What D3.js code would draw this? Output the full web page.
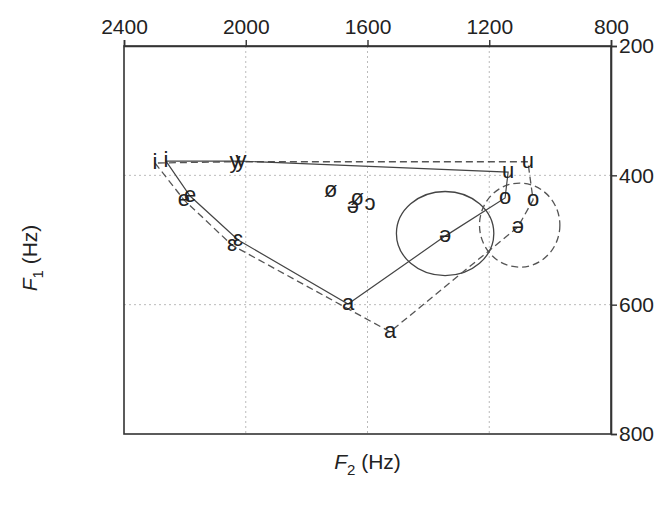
<!DOCTYPE html>
<html>
<head>
<meta charset="utf-8">
<script src="https://cdn.jsdelivr.net/npm/d3@7"></script>
<style>
  html, body { margin: 0; padding: 0; background: #fff; }
  svg { display: block; font-family: "Liberation Sans", Arial, Helvetica, sans-serif; }
</style>
</head>
<body>
<svg id="chart" width="667" height="508"></svg>
<script>
// ---- data ----
const vowels = ["i", "e", "ɛ", "a", "ə", "o", "u", "y"];
// series A (solid)
const solidF2 = [2262, 2183, 2025, 1664, 1345, 1148, 1138, 2016];
const solidF1 = [378, 432, 500, 599, 494, 435, 395, 378];
// series B (dashed)
const dashedF2 = [2298, 2203, 2045, 1526, 1106, 1056, 1073, 2035];
const dashedF1 = [381, 438, 508, 642, 480, 438, 379, 379];
// unconnected vowels
const extraLabels = ["ø", "ø", "ə", "ɔ"];
const extraF2 = [1721, 1634, 1648, 1592];
const extraF1 = [424, 437, 449, 444];
// dispersion ellipses for ə (centre F2, centre F1, radius F2, radius F1)
const ellipseNames = ["solid", "dashed"];
const ellipseF2 = [1345, 1100];
const ellipseF1 = [490, 477];
const ellipseRF2 = [160, 132];
const ellipseRF1 = [65, 65];
// ticks
const f2Ticks = [2400, 2000, 1600, 1200, 800];
const f1Ticks = [200, 400, 600, 800];

// ---- layout ----
const svg = d3.select("#chart");
const L = 124, R = 611, T = 46, B = 434;
const x = d3.scaleLinear().domain([2400, 800]).range([L, R]);
const y = d3.scaleLinear().domain([200, 800]).range([T, B]);

// grid
const grid = svg.append("g").attr("stroke", "#bbb").attr("stroke-width", 1).attr("stroke-dasharray", "2,3");
grid.selectAll("line.gx").data(f2Ticks.slice(1, -1)).join("line")
  .attr("x1", d => x(d)).attr("x2", d => x(d)).attr("y1", T).attr("y2", B);
grid.selectAll("line.gy").data(f1Ticks.slice(1, -1)).join("line")
  .attr("y1", d => y(d)).attr("y2", d => y(d)).attr("x1", L).attr("x2", R);

// frame
svg.append("rect").attr("x", L).attr("y", T).attr("width", R - L).attr("height", B - T)
  .attr("fill", "none").attr("stroke", "#333").attr("stroke-width", 1.6);

// axes
const topAxis = d3.axisTop(x).tickValues(f2Ticks).tickSize(6).tickPadding(6).tickFormat(d3.format("d"));
const gTop = svg.append("g").attr("transform", `translate(0,${T})`).call(topAxis);
const rightAxis = d3.axisRight(y).tickValues(f1Ticks).tickSize(6).tickPadding(2).tickFormat(d3.format("d"));
const gRight = svg.append("g").attr("transform", `translate(${R},0)`).call(rightAxis);
[gTop, gRight].forEach(g => {
  g.select(".domain").attr("stroke", "#333").attr("stroke-width", 1.6);
  g.selectAll(".tick line").attr("stroke", "#333").attr("stroke-width", 1.4);
  g.selectAll(".tick text").attr("fill", "#222").style("font-size", "21px")
    .style("font-family", "'Liberation Sans', Arial, sans-serif");
});

// ellipses
svg.selectAll("ellipse.sd").data(ellipseNames).join("ellipse")
  .attr("cx", (d, i) => x(ellipseF2[i]))
  .attr("cy", (d, i) => y(ellipseF1[i]))
  .attr("rx", (d, i) => Math.abs(x(ellipseF2[i] + ellipseRF2[i]) - x(ellipseF2[i])))
  .attr("ry", (d, i) => Math.abs(y(ellipseF1[i] + ellipseRF1[i]) - y(ellipseF1[i])))
  .attr("fill", "none")
  .attr("stroke", (d, i) => i === 0 ? "#444" : "#555")
  .attr("stroke-width", 1.3)
  .attr("stroke-dasharray", (d, i) => i === 0 ? null : "7,4");

// polygons
const line = d3.line().x(d => x(d[0])).y(d => y(d[1])).curve(d3.curveLinearClosed);
const solidPts = solidF2.map((v, i) => [v, solidF1[i]]);
const dashedPts = dashedF2.map((v, i) => [v, dashedF1[i]]);
svg.append("path").attr("d", line(dashedPts)).attr("fill", "none")
  .attr("stroke", "#555").attr("stroke-width", 1.3).attr("stroke-dasharray", "7,4");
svg.append("path").attr("d", line(solidPts)).attr("fill", "none")
  .attr("stroke", "#444").attr("stroke-width", 1.2);

// vowel labels
const fs = 22;
function labels(names, f2, f1) {
  svg.append("g").selectAll("text").data(names).join("text")
    .attr("x", (d, i) => x(f2[i]))
    .attr("y", (d, i) => y(f1[i]) + fs * 0.27)
    .attr("text-anchor", "middle")
    .style("font-size", fs + "px")
    .attr("fill", "#222")
    .text(d => d);
}
labels(vowels, dashedF2, dashedF1);
labels(vowels, solidF2, solidF1);
labels(extraLabels, extraF2, extraF1);

// axis titles
const xt = svg.append("text").attr("x", (L + R) / 2).attr("y", 469).attr("text-anchor", "middle")
  .style("font-size", "21px").attr("fill", "#222");
xt.append("tspan").style("font-style", "italic").text("F");
xt.append("tspan").attr("dy", 6).style("font-size", "15px").text("2");
xt.append("tspan").attr("dy", -6).text(" (Hz)");

const yt = svg.append("text").attr("transform", `translate(37,${(T + B) / 2 + 18}) rotate(-90)`)
  .attr("text-anchor", "middle").style("font-size", "21px").attr("fill", "#222");
yt.append("tspan").style("font-style", "italic").text("F");
yt.append("tspan").attr("dy", 6).style("font-size", "15px").text("1");
yt.append("tspan").attr("dy", -6).text(" (Hz)");
</script>
</body>
</html>
